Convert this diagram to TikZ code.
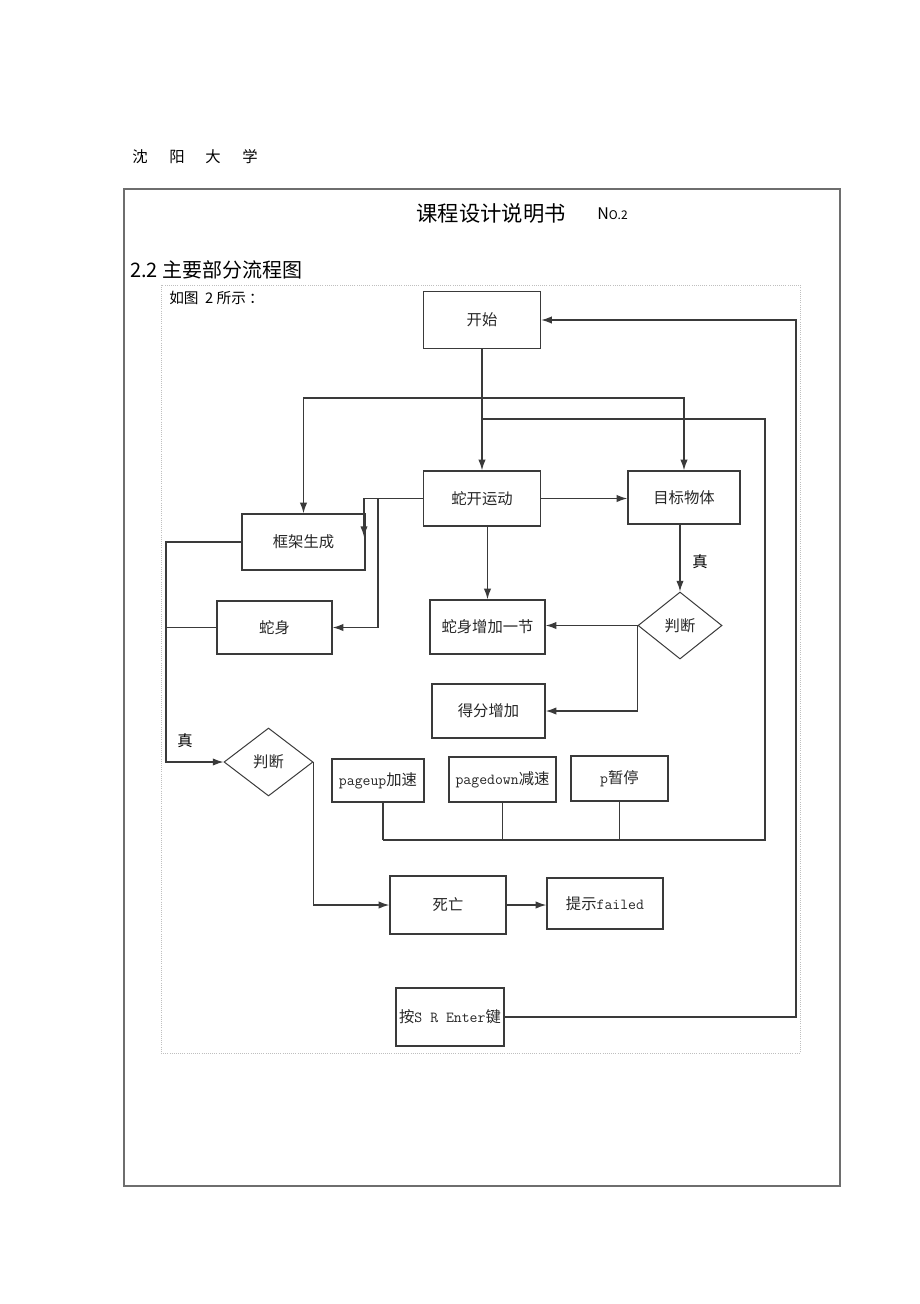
\documentclass[tikz,border=0pt]{standalone}
\usepackage{fontspec}
\setmainfont{Noto Sans CJK SC}
\usetikzlibrary{arrows.meta,shapes.geometric}
\definecolor{linecol}{HTML}{3A3A3A}
\definecolor{framecol}{HTML}{6E6E6E}
\newcommand{\lt}[1]{{\fontsize{11.5}{13}\ttfamily #1}}
\tikzset{
  box/.style 2 args={draw=linecol, line width=1pt, rectangle, inner sep=0pt,
     minimum width=#1*0.75pt, minimum height=#2*0.75pt,
     font=\fontsize{11.5}{13}\selectfont, text=black!85},
  dia/.style 2 args={draw=linecol, line width=0.75pt, diamond, inner sep=0pt,
     minimum width=#1*0.75pt, minimum height=#2*0.75pt,
     font=\fontsize{11.5}{13}\selectfont, text=black!85},
  conn/.style={draw=linecol, line width=1pt},
  arr/.style={conn, -{Latex[length=8pt,width=5.5pt]}},
  lbl/.style={inner sep=0pt, font=\fontsize{11.5}{13}\selectfont}
}
\begin{document}
\begin{tikzpicture}[x=0.75pt,y=-0.75pt]
\useasboundingbox (0,0) rectangle (920,1304);
% header
\node[lbl] (h1) at (140,157) {沈};
\node[lbl] (h2) at (177,157) {阳};
\node[lbl] (h3) at (213,157) {大};
\node[lbl] (h4) at (250,157) {学};
% frames
\draw[framecol, line width=1.1pt] (124,189) rectangle (840,1186);
\draw[black!25, densely dotted, line width=0.6pt] (161,285) rectangle (800,1053);
\node[inner sep=0pt, font=\fontsize{16}{18}\selectfont] (title) at (491,213) {课程设计说明书};
\node[inner sep=0pt, anchor=west, font=\fontsize{12}{14}\selectfont] (no) at (597,214) {N{\fontsize{9}{10}\selectfont O.2}};
\node[inner sep=0pt, anchor=west, font=\fontsize{15}{17}\selectfont] (sec) at (130,270) {2.2 主要部分流程图};
\node[inner sep=0pt, anchor=west, font=\fontsize{11}{13}\selectfont] (intro) at (169,298) {如图\ \ 2 所示\ ：};
% nodes
\node[box={117}{57}] (start) at (482,320) {开始};
\node[box={117}{55}] (move) at (482,498.5) {蛇开运动};
\node[box={112}{53}] (target) at (684,497.5) {目标物体};
\node[box={123}{56}] (frame) at (303.5,542) {框架生成};
\node[box={115}{53}] (body) at (274.5,627.5) {蛇身};
\node[box={115}{54}] (grow) at (487.5,627) {蛇身增加一节};
\node[dia={84}{67}] (judgeR) at (680,625.5) {判断};
\node[box={113}{54}] (score) at (488.5,711) {得分增加};
\node[dia={89}{68}] (judgeL) at (268.5,762) {判断};
\node[box={92}{43}] (pgup) at (378,780.5) {\lt{pageup}加速};
\node[box={107}{45}] (pgdn) at (502.5,779.5) {\lt{pagedown}减速};
\node[box={97}{45}] (pause) at (619.5,778.5) {\lt{p}暂停};
\node[box={116}{58}] (die) at (448,905) {死亡};
\node[box={116}{51}] (fail) at (605,903.5) {提示\lt{failed}};
\node[box={108}{58}] (restart) at (450,1017) {按\lt{S R Enter}键};
% labels
\node[lbl] (t1) at (185,741) {真};
\node[lbl] (t2) at (700,562) {真};
% coordinates
\coordinate (j1) at (482,398);
\coordinate (j2) at (482,419);
\coordinate (bus) at (765,840);
\coordinate (k1) at (364,498.5);
\coordinate (k1e) at (364,537);
\coordinate (k2) at (378,498.5);
\coordinate (l1) at (166,542);
\coordinate (l2) at (166,762);
\coordinate (r1) at (796,1017);
\coordinate (bx) at (383,840);
% connectors
\draw[arr] (start.south) -- (move.north);
\draw[arr] (j1) -| (frame.north);
\draw[arr] (j1) -| (target.north);
\draw[conn] (j2) -| (bus) -- (bx);
\draw[conn] (pgup.south -| bx) -- (bx);
\draw[conn] (pgdn.south) -- (pgdn.south |- bus);
\draw[conn] (pause.south) -- (pause.south |- bus);
\draw[arr] (move.east) -- (move.east -| target.west);
\draw[arr] (move.west) -- (k1) -- (k1e);
\draw[arr] (k2) |- (body.east);
\draw[arr] (frame.west) -- (l1) -- (l2) -- (judgeL.west);
\draw[conn] (body.west) -- (body.west -| l1);
\draw[arr] (grow.north |- move.south) -- (grow.north);
\draw[arr] (judgeR.north |- target.south) -- (judgeR.north);
\draw[arr] (judgeR.west) -- (judgeR.west -| grow.east);
\draw[arr] (judgeR.west) |- (score.east);
\draw[arr] (judgeL.east) |- (die.west);
\draw[arr] (die.east) -- (die.east -| fail.west);
\draw[arr] (restart.east) -- (r1) |- (start.east);
\end{tikzpicture}
\end{document}
